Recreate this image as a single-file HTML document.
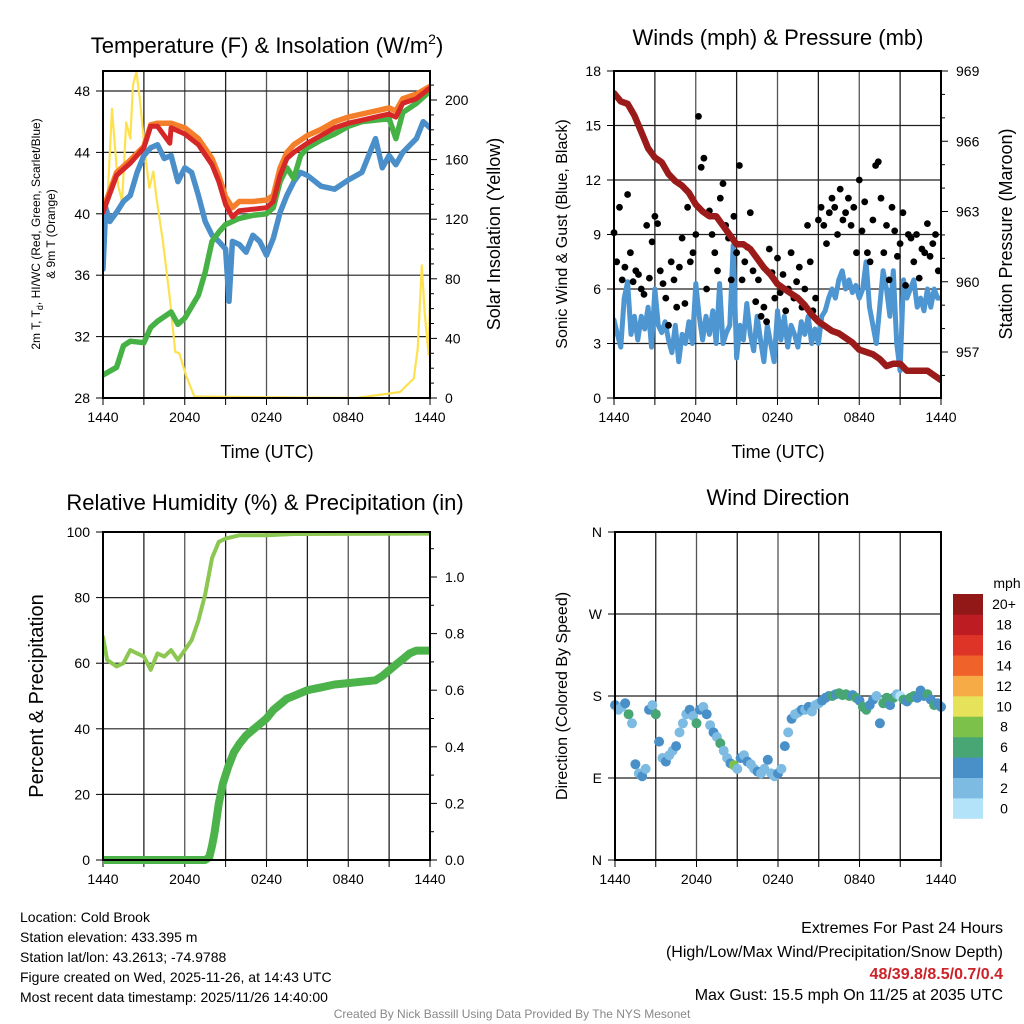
<!DOCTYPE html>
<html><head><meta charset="utf-8">
<style>
html,body{margin:0;padding:0;background:#fff;}
svg{display:block;font-family:"Liberation Sans",Arial,sans-serif;}
</style></head>
<body>
<svg id="chart" width="1024" height="1024" viewBox="0 0 1024 1024" xmlns="http://www.w3.org/2000/svg"></svg>
<script>
// ===== Data =====
const timeTicks = ["1440","2040","0240","0840","1440"];
const redT = [0,1,2,3,3.5,4,4.9,5,6,7,8,8.5,9,9.5,10,11,12,12.5,13,13.5,14,14.5,15,16,17,18,19,20,21,21.5,22,23,24];
const redV = [40.1,42.5,43.3,44.3,45.7,45.7,44.6,45.6,45.2,44.5,43.2,42.1,40.6,39.8,40.2,40.3,40.4,40.8,42.5,43.6,44.0,44.3,44.6,45.1,45.6,45.9,46.1,46.3,46.5,46.3,47.2,47.5,48.2];
const orangeT = [0,1,2,3,3.5,4,5,6,7,8,8.5,9,9.5,10,11,12,12.5,13,13.5,14,14.5,15,16,17,18,19,20,21,21.5,22,23,24];
const orangeV = [40.3,42.7,43.5,44.4,45.8,45.9,45.9,45.6,44.9,43.6,42.5,41.1,40.4,40.8,40.8,40.9,41.2,43.0,44.0,44.5,44.8,45.1,45.5,46.0,46.3,46.5,46.7,46.9,46.7,47.5,47.8,48.3];
const greenT = [0,1,1.5,2,3,3.5,4,5,5.5,6,7,7.5,8,8.5,9,10,11,12,12.5,13,13.5,14,14.5,15,16,17,18,19,20,21,21.5,22,23,24];
const greenV = [29.5,30.0,31.4,31.7,31.6,32.6,33.0,33.6,32.8,33.2,34.7,36.2,38.2,38.8,39.3,39.7,39.9,40.0,40.4,42.1,43.0,42.3,43.8,44.3,44.8,45.2,45.7,46.0,46.1,46.2,44.9,46.6,47.2,48.0];
const blueT = [0,0.2,0.5,1,1.5,2,2.5,3,3.5,4,4.5,5,5.5,6,6.5,7,7.5,8,8.5,9,9.25,9.5,10,10.5,11,11.5,12,12.5,13,13.5,14,14.5,15,16,17,18,19,20,20.5,21,21.5,22,23,23.5,24];
const blueV = [36.4,40.4,39.5,40.1,40.8,41.2,42.7,43.8,44.3,44.5,43.6,43.8,42.1,43.0,42.7,41.2,39.5,38.6,38.2,37.7,34.3,38.2,38.0,37.5,38.6,38.2,37.3,38.4,40.1,41.2,42.1,42.7,42.5,41.8,41.6,42.2,42.7,44.9,43.0,43.8,43.2,44.0,44.9,46.0,45.6];
const solarT = [0,0.27,0.66,1.1,1.4,1.7,2,2.2,2.45,2.7,3.1,3.4,3.7,3.9,4.4,4.9,5.3,5.6,6.1,6.7,18.6,21.8,22.8,23.1,23.4,23.6,23.9,24];
const solarV = [125,123,194,143,132,185,174,210,219,201,163,141,152,136,105,67,31,30,15,1,0,4,13,33,89,58,29,67];
const presT = [0,0.5,1,1.5,2,2.5,3,3.5,4,4.5,5,5.5,6,6.5,7,7.5,8,8.5,9,9.5,10,10.5,11,11.5,12,12.5,13,13.5,14,14.5,15,15.5,16,16.5,17,17.5,18,18.5,19,19.5,20,20.5,21,21.5,22,22.5,23,23.5,24];
const presV = [968.05,967.7,967.6,967.1,966.4,965.7,965.3,965.1,964.6,964.3,964.1,963.8,963.3,963.0,962.8,962.8,962.4,962.0,961.6,961.6,961.4,961.0,960.6,960.3,959.9,959.7,959.5,959.3,959.0,958.6,958.3,958.1,957.9,957.8,957.6,957.4,957.1,957.0,956.9,956.7,956.4,956.5,956.5,956.2,956.2,956.2,956.2,956.0,955.8];
const windV = [4.3,3.5,2.8,5.5,6.4,3.5,4.5,3.2, 4.5,3.8,5.0,2.8,6.0,4.0,3.6,4.2, 3.2,2.5,4.0,2.0,3.5,3.0,4.2,3.0, 6.3,4.5,3.2,4.5,3.5,4.8,3.0,6.3, 3.0,3.6,4.0,8.4,2.2,4.0,3.2,5.2, 3.5,2.6,4.5,3.2,2.0,4.0,3.0,2.0, 4.8,3.2,4.5,2.8,4.0,3.5,2.8,4.2, 3.5,4.5,3.0,3.8,3.0,4.5,4.8,5.5, 6.0,5.5,6.5,7.0,6.0,6.5,5.8,6.2, 5.5,6.0,7.5,5.0,4.0,3.0,5.0,7.0, 6.0,4.5,7.0,3.0,1.5,6.5,5.5,6.0, 6.5,5.0,5.5,4.8,6.0,5.0,6.0,5.5,5.5];
const gustV = [9.1,7.5,10.5,6.5,7.2, 11.2,8.0,6.4,7.0,6.8, 6.0,5.7,9.5,6.6,8.6, 10.0,9.6,7.0,6.3,5.5, 4.0,7.5,6.5,5.0,7.2, 8.8,5.2,10.5,7.5,8.0, 9.0,15.5,12.7,13.2,6.0, 10.3,9.0,8.0,7.0,11.0, 11.8,9.5,8.8,6.5,10.0, 8.0,12.8,6.5,7.5,8.3, 10.2,7.0,5.3,6.5,4.5, 5.0,4.2,8.2,6.9,5.5, 7.7,5.8,6.8,4.8,6.0, 8.0,5.5,6.4,7.2,5.0, 6.0,9.5,7.5,4.8,5.5, 9.8,10.5,9.5,8.5,10.2, 11.0,10.5,9.0,11.5,9.8, 10.2,11.0,9.5,10.5,8.0, 12.0,9.2,10.8,8.0,7.5, 9.8,12.8,13.0,11.0,8.0, 9.5,6.5,10.5,9.2,7.8, 8.5,10.2,6.2,9.0,8.8, 7.5,9.0,6.6,8.2,8.0, 9.6,7.8,8.5,9.0,7.0];
const rhT = [0,0.3,1,1.5,2,2.5,3,3.5,4,4.5,5,5.5,6,6.5,7,7.5,8,8.5,9,10,11,12,14,24];
const rhV = [68,61,59,60,64,63,62,58,63,62,64,61,64,67,73,81,92,97,98,99,99,99,99.4,99.5];
const prT = [0,7.5,7.8,8.0,8.2,8.5,8.8,9.2,9.6,10,10.5,11,11.5,12,12.5,13,13.5,14,15,16,17,18,19,20,20.5,21,21.5,22,22.5,23,24];
const prV = [0,0,0.01,0.05,0.1,0.2,0.27,0.33,0.38,0.41,0.44,0.46,0.48,0.5,0.53,0.55,0.57,0.58,0.6,0.61,0.62,0.625,0.63,0.635,0.65,0.67,0.69,0.71,0.73,0.74,0.74];
const dirV = [170,165,168,172, 160,150,105,95, 92,100,165,170, 160,130,112,108, 115,120,125,140, 150,160,165,158, 150,165,168,160, 148,140,135,128, 120,112,106,104, 100,112,115,108, 105,100,97,95, 100,110,95,92, 95,100,125,140, 155,160,162,165, 165,168,163,170, 172,175,178,180, 180,182,183,181, 182,180,181,178, 175,168,165,170, 176,180,150,172, 178,170,178,182, 180,176,174,178, 180,178,186,180, 182,176,170,172, 168];
const cbLabels = ["0","2","4","6","8","10","12","14","16","18","20+"];
const cbColors = ["#b3e3f8","#7dbbe3","#4a90c8","#47a673","#7cc24a","#e6e25a","#f6ab47","#ef632a","#de3428","#bd1c23","#921818"];

const NS="http://www.w3.org/2000/svg";
const svg=document.getElementById('chart');
function mk(tag,attrs,parent){const e=document.createElementNS(NS,tag);for(const k in attrs)e.setAttribute(k,attrs[k]);(parent||svg).appendChild(e);return e;}
function txt(s,x,y,size,anchor,parent,extra){const e=mk('text',Object.assign({x:x,y:y,'font-size':size,'text-anchor':anchor||'middle',fill:'#000'},extra||{}),parent);e.textContent=s;return e;}
function lin(d0,d1,r0,r1){return v=>r0+(v-d0)/(d1-d0)*(r1-r0);}

function frame(x0,x1,y0,y1,yTicks,yFn,labels,name){
  const g=mk('g',{});
  
  
  const xs=lin(0,24,x0,x1);
  for(let h=3;h<24;h+=3){const l=mk('line',{x1:xs(h),x2:xs(h),y1:y0,y2:y1,stroke:(h%6?'#222':'#555'),'stroke-width':1.3},g);}
  yTicks.forEach((v,i)=>{const y=yFn(v);
    if(y>y0+1&&y<y1-1){const l=mk('line',{x1:x0,x2:x1,y1:y,y2:y,stroke:'#222','stroke-width':1.2},g);}
    mk('line',{x1:x0-7,x2:x0,y1:y,y2:y,stroke:'#000','stroke-width':1},g);
    const t=txt(labels[i],x0-13,y+5,14,'end',g);});
  for(let h=0;h<=24;h+=3){mk('line',{x1:xs(h),x2:xs(h),y1:y1,y2:y1+7,stroke:'#000','stroke-width':1},g);}
  timeTicks.forEach((s,i)=>{const t=txt(s,xs(i*6),y1+24,14,'middle',g);});
  return {g,xs};
}
function box(x0,x1,y0,y1,name){const r=mk('rect',{x:x0,y:y0,width:x1-x0,height:y1-y0,fill:'none',stroke:'#000','stroke-width':2});}
function path(ts,vs,xs,ys,color,w,name,clip){const d=ts.map((t,i)=>(i?'L':'M')+xs(t).toFixed(1)+','+ys(vs[i]).toFixed(1)).join('');
  const p=mk('path',{d:d,fill:'none',stroke:color,'stroke-width':w,'stroke-linejoin':'round','stroke-linecap':'round'});
  if(clip)p.setAttribute('clip-path','url(#'+clip+')');
  return p;}
function rightTicks(x1,vals,yFn,labels,minor){
  (minor||[]).forEach(v=>mk('line',{x1:x1,x2:x1+4,y1:yFn(v),y2:yFn(v),stroke:'#000','stroke-width':1}));
  vals.forEach((v,i)=>{const y=yFn(v);mk('line',{x1:x1,x2:x1+7,y1:y,y2:y,stroke:'#000','stroke-width':1});
    const t=txt(labels[i],x1+15,y+5,14,'start');});
}
const defs=mk('defs',{});
function clipRect(id,x0,x1,y0,y1){const c=mk('clipPath',{id:id},defs);mk('rect',{x:x0,y:y0,width:x1-x0,height:y1-y0},c);}

// Panel 1
(function(){
 const X0=103,X1=430,Y0=71,Y1=398;
 clipRect('c1',X0,X1,Y0,Y1);
 const ys=lin(28,48,Y1,91), yr=lin(0,200,Y1,100);
 const tv=[28,32,36,40,44,48];
 const {xs}=frame(X0,X1,Y0,Y1,tv,ys,tv.map(String),'temperature');
 path(solarT,solarV,xs,yr,'#fde14f',2.2,'solar-insolation-line','c1');
 path(blueT,blueV,xs,ys,'#4a8fc9',5.5,'wind-chill-line','c1');
 path(greenT,greenV,xs,ys,'#46b245',5.5,'dewpoint-line','c1');
 path(orangeT,orangeV,xs,ys,'#f57e2a',5.5,'temp-9m-line','c1');
 path(redT,redV,xs,ys,'#d62728',5,'temp-2m-line','c1');
 box(X0,X1,Y0,Y1,'temperature');
 const rv=[0,40,80,120,160,200];const mn=[];for(let v=10;v<220;v+=10)if(v%40)mn.push(v);
 rightTicks(X1,rv,yr,rv.map(String),mn);
 const t=mk('text',{x:267,y:53,'font-size':22,'text-anchor':'middle'});t.innerHTML='Temperature (F) &amp; Insolation (W/m<tspan font-size="14" dy="-9">2</tspan><tspan dy="9">)</tspan>';
 
 let a=txt('Time (UTC)',267,458,18);
 a=mk('text',{x:0,y:0,'font-size':12,'text-anchor':'middle',transform:'translate(40,234) rotate(-90)'});
 a.innerHTML='2m T, T<tspan font-size="9" dy="3">d</tspan><tspan dy="-3">, HI/WC (Red, Green, Scarlet/Blue)</tspan>';
 
 a=txt('& 9m T (Orange)',0,0,12,'middle',null,{transform:'translate(55,234) rotate(-90)'});
 a=txt('Solar Insolation (Yellow)',0,0,18,'middle',null,{transform:'translate(500,234) rotate(-90)'});
})();

// Panel 2
(function(){
 const X0=614,X1=941,Y0=71,Y1=398;
 clipRect('c2',X0,X1,Y0,Y1);
 const ys=lin(0,18,Y1,Y0), yp=lin(957,969,352,71);
 const tv=[0,3,6,9,12,15,18];
 const {xs}=frame(X0,X1,Y0,Y1,tv,ys,tv.map(String),'winds');
 path(windV.map((v,i)=>i*0.25),windV,xs,ys,'#4d96d2',5,'sonic-wind-line','c2');
 const gg=mk('g',{});
 gustV.forEach((v,i)=>{const c=mk('circle',{cx:xs(i*0.2).toFixed(1),cy:ys(v).toFixed(1),r:3.4,fill:'#000'},gg);});
 path(presT,presV,xs,yp,'#9b1b1b',6.5,'pressure-line','c2');
 box(X0,X1,Y0,Y1,'winds');
 const rv=[957,960,963,966,969];const mn=[];for(let v=956;v<969;v++)if((v-957)%3)mn.push(v);
 rightTicks(X1,rv,yp,rv.map(String),mn);
 let a=txt('Winds (mph) & Pressure (mb)',778,45,22);
 a=txt('Time (UTC)',778,458,18);
 a=txt('Sonic Wind & Gust (Blue, Black)',0,0,16,'middle',null,{transform:'translate(567,234) rotate(-90)'});
 a=txt('Station Pressure (Maroon)',0,0,18,'middle',null,{transform:'translate(1012,234) rotate(-90)'});
})();

// Panel 3
(function(){
 const X0=103,X1=430,Y0=532,Y1=860;
 clipRect('c3',X0,X1,Y0-6,Y1+6);
 const ys=lin(0,100,Y1,Y0), yr=lin(0,1,Y1,577);
 const tv=[0,20,40,60,80,100];
 const {xs}=frame(X0,X1,Y0,Y1,tv,ys,tv.map(String),'humidity');
 path(rhT,rhV,xs,ys,'#8cc751',4,'relative-humidity-line','c3');
 path(prT,prV,xs,yr,'#4cb34a',8,'precipitation-line','c3');
 box(X0,X1,Y0,Y1,'humidity');
 const rv=[0,0.2,0.4,0.6,0.8,1.0];const mn=[0.1,0.3,0.5,0.7,0.9,1.1];
 rightTicks(X1,rv,yr,rv.map(v=>v.toFixed(1)),mn);
 let a=txt('Relative Humidity (%) & Precipitation (in)',265,510,22);
 a=txt('Percent & Precipitation',0,0,20,'middle',null,{transform:'translate(43,696) rotate(-90)'});
})();

// Panel 4
(function(){
 const X0=615,X1=941,Y0=532,Y1=860;
 const ys=lin(0,360,Y1,Y0);
 const tv=[0,90,180,270,360];
 const {xs}=frame(X0,X1,Y0,Y1,tv,ys,['N','E','S','W','N'],'wind-direction');
 const gg=mk('g',{});
 dirV.forEach((d,i)=>{const s=windV[i];const bin=Math.min(10,Math.max(0,Math.floor(s/2)));
   const c=mk('circle',{cx:xs(i*0.25).toFixed(1),cy:ys(d).toFixed(1),r:5,fill:cbColors[bin]},gg);
   });
 box(X0,X1,Y0,Y1,'wind-direction');
 let a=txt('Wind Direction',778,505,22);
 a=txt('Direction (Colored By Speed)',0,0,16,'middle',null,{transform:'translate(567,696) rotate(-90)'});
 const cb=mk('g',{});
 const bh=224.5/cbColors.length;
 cbColors.forEach((c,i)=>{const y=818.5-(i+1)*bh;
   const r=mk('rect',{x:953,y:y.toFixed(1),width:30,height:(bh+0.3).toFixed(1),fill:c},cb);
   const t=txt(cbLabels[i],1004,y+bh/2+5,14,'middle',cb);});
 a=txt('mph',1007,588,14,'middle');
})();

// Footer
(function(){
 const left=["Location: Cold Brook","Station elevation: 433.395 m","Station lat/lon: 43.2613; -74.9788","Figure created on Wed, 2025-11-26, at 14:43 UTC","Most recent data timestamp: 2025/11/26 14:40:00"];
 left.forEach((s,i)=>{const t=txt(s,20,922+i*20,14,'start');});
 let t=txt('Extremes For Past 24 Hours',1003,933,16,'end');
 t=txt('(High/Low/Max Wind/Precipitation/Snow Depth)',1003,957,16,'end');
 t=txt('48/39.8/8.5/0.7/0.4',1003,979,16,'end',null,{fill:'#cc2229','font-weight':'bold'});
 t=txt('Max Gust: 15.5 mph On 11/25 at 2035 UTC',1003,1000,16,'end');
 t=txt('Created By Nick Bassill Using Data Provided By The NYS Mesonet',512,1018,12,'middle',null,{fill:'#888'});
})();
</script>
</body></html>
